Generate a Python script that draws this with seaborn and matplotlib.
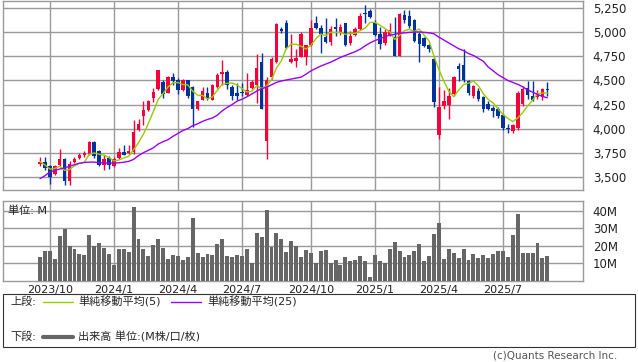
import numpy as np
import pandas as pd
import matplotlib
matplotlib.use('Agg')
import matplotlib.pyplot as plt
from matplotlib.lines import Line2D
from matplotlib.patches import Rectangle
import seaborn as sns

sns.set_style("white")
plt.rcParams['font.family'] = ['DejaVu Sans', 'Noto Sans CJK JP']

# --- datos semanales ---
first_week = '2023-09-18'

opens = [3635, 3653, 3615, 3524, 3618, 3688, 3451, 3656, 3698, 3722,
         3740, 3861, 3771, 3618, 3695, 3607, 3698, 3757, 3747, 3757,
         3982, 4128, 4198, 4319, 4413, 4483, 4372, 4538, 4510, 4399,
         4503, 4434, 4208, 4302, 4372, 4302, 4434, 4563, 4586, 4430,
         4365, 4378, 4354, 4424, 4458, 4691, 3868, 4535, 4691, 5038,
         5094, 4695, 4701, 4747, 4747, 4865, 5101, 5049, 4955, 4899,
         5059, 4997, 5094, 4892, 4972, 5038, 5198, 5222, 5101, 4979,
         4885, 4972, 4950, 4753, 5180, 5170, 5125, 4980, 4940, 4870,
         4726, 3930, 4240, 4250, 4360, 4650, 4656, 4490, 4340, 4395,
         4330, 4260, 4215, 4205, 4146, 4010, 3975, 4010, 4255, 4424,
         4344, 4330, 4330, 4415]
highs = [3700, 3700, 3625, 3620, 3792, 3695, 3663, 3710, 3750, 3770,
         3870, 3875, 3780, 3729, 3715, 3705, 3795, 3826, 3826, 4094,
         4101, 4284, 4300, 4417, 4610, 4510, 4550, 4573, 4530, 4520,
         4510, 4440, 4290, 4430, 4430, 4460, 4573, 4708, 4610, 4448,
         4476, 4476, 4573, 4510, 4771, 4788, 4535, 4740, 5100, 5060,
         5125, 4979, 4830, 5000, 4870, 5128, 5170, 5080, 5153, 5070,
         5153, 5090, 5100, 5010, 5059, 5205, 5281, 5240, 5125, 5059,
         5031, 5101, 5163, 5205, 5230, 5230, 5140, 5000, 4950, 4880,
         4740, 4434, 4400, 4420, 4550, 4680, 4830, 4510, 4450, 4420,
         4340, 4290, 4235, 4225, 4150, 4050, 4045, 4390, 4440, 4493,
         4490, 4400, 4420, 4483]
lows = [3607, 3573, 3424, 3515, 3607, 3410, 3410, 3645, 3688, 3700,
        3730, 3695, 3610, 3573, 3580, 3600, 3680, 3722, 3740, 3740,
        3972, 4034, 4185, 4278, 4400, 4313, 4365, 4448, 4361, 4390,
        4313, 4014, 4198, 4295, 4302, 4295, 4420, 4458, 4413, 4295,
        4302, 4340, 4337, 4410, 4268, 4200, 3688, 4520, 4680, 4990,
        4830, 4680, 4639, 4740, 4660, 4860, 5030, 4781, 4890, 4865,
        4962, 4975, 4858, 4868, 4962, 5025, 5094, 5150, 4962, 4830,
        4865, 4962, 4750, 4750, 5100, 5050, 4900, 4690, 4850, 4800,
        4226, 3890, 4200, 4095, 4344, 4490, 4480, 4350, 4320, 4290,
        4170, 4190, 4125, 4115, 3990, 3955, 3955, 3990, 4240, 4310,
        4284, 4310, 4300, 4337]
closes = [3656, 3590, 3493, 3607, 3688, 3451, 3635, 3688, 3729, 3750,
          3857, 3712, 3618, 3688, 3618, 3684, 3757, 3729, 3771, 3962,
          4052, 4198, 4284, 4382, 4604, 4361, 4538, 4493, 4399, 4500,
          4344, 4208, 4284, 4389, 4320, 4448, 4552, 4586, 4448, 4337,
          4344, 4368, 4406, 4483, 4625, 4208, 4500, 4726, 5083, 5014,
          4840, 4719, 4729, 4979, 4865, 5042, 5049, 4979, 4899, 5038,
          5031, 5059, 4868, 4962, 5031, 5170, 5188, 5163, 4972, 4882,
          5003, 5021, 4753, 5188, 5125, 5070, 4915, 4880, 4860, 4825,
          4274, 4220, 4284, 4337, 4540, 4620, 4500, 4365, 4440, 4305,
          4200, 4205, 4180, 4135, 4010, 4000, 4040, 4370, 4413, 4354,
          4300, 4372, 4413, 4405]

# media móvil de 25 semanas (necesita historia previa)
ma25 = [3480, 3510, 3550, 3565, 3580, 3590, 3610, 3625, 3640, 3648,
        3652, 3652, 3645, 3642, 3642, 3642, 3645, 3650, 3660, 3680,
        3720, 3750, 3775, 3800, 3840, 3865, 3885, 3920, 3950, 3980,
        4000, 4030, 4050, 4075, 4095, 4110, 4140, 4185, 4220, 4250,
        4285, 4305, 4330, 4360, 4390, 4415, 4430, 4455, 4480, 4495,
        4505, 4515, 4525, 4535, 4565, 4600, 4625, 4650, 4670, 4690,
        4715, 4740, 4760, 4780, 4800, 4825, 4860, 4890, 4915, 4935,
        4955, 4970, 4980, 4990, 4995, 5000, 5003, 5005, 5000, 4995,
        4985, 4950, 4920, 4890, 4860, 4830, 4810, 4780, 4760, 4730,
        4700, 4640, 4600, 4560, 4530, 4500, 4480, 4460, 4435, 4400,
        4380, 4355, 4335, 4320]

# volumen en millones
volume = [13.2, 17.0, 17.0, 12.5, 25.6, 29.6, 19.9, 18.2, 15.3, 14.7,
          26.2, 19.9, 21.4, 18.9, 15.3, 9.0, 18.2, 18.2, 16.5, 42.0,
          23.9, 18.2, 14.2, 20.5, 23.9, 18.9, 12.5, 14.7, 14.2, 11.9,
          13.6, 36.1, 15.9, 13.6, 15.3, 14.7, 21.0, 23.9, 14.2, 13.6,
          14.7, 14.2, 18.2, 10.2, 27.3, 25.0, 40.5, 19.3, 27.3, 23.9,
          16.5, 22.7, 19.9, 13.6, 17.6, 15.9, 10.2, 17.0, 17.6, 10.0,
          11.9, 9.0, 13.6, 11.3, 11.9, 14.2, 11.3, 2.2, 14.7, 10.9,
          9.8, 18.2, 22.2, 17.0, 13.6, 14.7, 17.0, 21.0, 11.3, 14.2,
          26.7, 33.0, 12.5, 18.2, 15.9, 13.0, 18.2, 11.9, 15.3, 13.0,
          14.7, 13.0, 15.3, 17.0, 17.0, 13.6, 26.2, 38.2, 15.9, 15.9,
          15.9, 21.6, 13.0, 14.2]

tick_dates = ['2023-10-02', '2024-01-01', '2024-04-01', '2024-07-01',
              '2024-10-07', '2025-01-06', '2025-04-07', '2025-07-07']
tick_labels = ['2023/10', '2024/1', '2024/4', '2024/7',
               '2024/10', '2025/1', '2025/4', '2025/7']
price_ticks = [3500, 3750, 4000, 4250, 4500, 4750, 5000, 5250]
vol_ticks = [10, 20, 30, 40]

df = pd.DataFrame({'open': opens, 'high': highs, 'low': lows,
                   'close': closes, 'ma25': ma25, 'volume': volume})
df['fecha'] = pd.date_range(first_week, periods=len(df), freq='7D')
df['ma5'] = df['close'].rolling(5, min_periods=1).mean()
subida = df['close'] >= df['open']

RED = '#F5003A'
BLUE = '#003399'
GRID = '#9a9a9a'

W, H = 638, 362
fig = plt.figure(figsize=(W / 100, H / 100), dpi=100)
ax_p = fig.add_axes([3 / W, 1 - 190 / H, 580 / W, 189 / H])
ax_v = fig.add_axes([3 / W, 1 - 280.5 / H, 580 / W, 79.5 / H])

xmin = pd.Timestamp(first_week) - pd.Timedelta(days=52.6)
xmax = df['fecha'].iloc[-1] + pd.Timedelta(days=50.7)
ticks = pd.to_datetime(tick_dates)

# --- velas ---
colores = np.where(subida, RED, BLUE)
ax_p.vlines(df['fecha'], df['low'], df['high'], colors=colores, lw=1.0, zorder=3)
cuerpo = np.maximum((df['close'] - df['open']).abs(), 8)
base = np.minimum(df['open'], df['close'])
ax_p.bar(df['fecha'], cuerpo, bottom=base, width=5.0, color=colores,
         linewidth=0, zorder=4)
sns.lineplot(data=df, x='fecha', y='ma5', ax=ax_p, color='#99CC00', lw=1.0, zorder=5)
sns.lineplot(data=df, x='fecha', y='ma25', ax=ax_p, color='#9900FF', lw=1.0, zorder=5)

ax_p.set_xlim(xmin, xmax)
ax_p.set_ylim(3362, 5326)
ax_p.set_yticks(price_ticks)
ax_p.set_yticklabels([f'{v:,}' for v in price_ticks])
ax_p.set_xticks(ticks)
ax_p.set_xticklabels([])

# --- volumen ---
ax_v.bar(df['fecha'], df['volume'], width=5.6, color='#666666', linewidth=0, zorder=3)
ax_v.set_xlim(xmin, xmax)
ax_v.set_ylim(0, 45.6)
ax_v.set_yticks(vol_ticks)
ax_v.set_yticklabels([f'{v}M' for v in vol_ticks])
ax_v.set_xticks(ticks)
ax_v.set_xticklabels(tick_labels)
ax_v.text(0.008, 0.88, '単位: M', transform=ax_v.transAxes, fontsize=8,
          va='center', ha='left', color='#222222', zorder=6)

for ax in (ax_p, ax_v):
    ax.set_xlabel('')
    ax.set_ylabel('')
    ax.grid(True, color=GRID, lw=1.0, zorder=0)
    ax.set_axisbelow(True)
    ax.yaxis.tick_right()
    ax.tick_params(axis='y', length=0, pad=7, labelsize=8.5, labelcolor='#222222')
    ax.tick_params(axis='x', length=0, pad=3, labelsize=8, labelcolor='#222222')
    for lab in ax.get_yticklabels():
        lab.set_horizontalalignment('left')
    for s in ax.spines.values():
        s.set_color(GRID)
        s.set_linewidth(1.0)

# --- leyenda inferior ---
def fx(px):
    return px / W

def fy(py):
    return 1 - py / H

fig.patches.append(Rectangle((fx(3), fy(347)), fx(632), 53 / H, transform=fig.transFigure,
                             fill=False, edgecolor='#333333', lw=0.8))
fig.text(fx(10), fy(302), '上段:', fontsize=8, va='center')
fig.add_artist(Line2D([fx(43), fx(73)], [fy(302), fy(302)], color='#99CC00', lw=1.0,
                      transform=fig.transFigure))
fig.text(fx(78), fy(302), '単純移動平均(5)', fontsize=8, va='center')
fig.add_artist(Line2D([fx(171), fx(201)], [fy(302), fy(302)], color='#9900FF', lw=1.0,
                      transform=fig.transFigure))
fig.text(fx(207), fy(302), '単純移動平均(25)', fontsize=8, va='center')
fig.text(fx(10), fy(337), '下段:', fontsize=8, va='center')
fig.add_artist(Line2D([fx(43), fx(73)], [fy(337), fy(337)], color='#666666', lw=3.0,
                      transform=fig.transFigure))
fig.text(fx(78), fy(337), '出来高 単位:(M株/口/枚)', fontsize=8, va='center')
fig.text(fx(617), fy(356), '(c)Quants Research Inc.', fontsize=7.5, va='center',
         ha='right', color='#555555')

fig.savefig('out.png', dpi=100)
